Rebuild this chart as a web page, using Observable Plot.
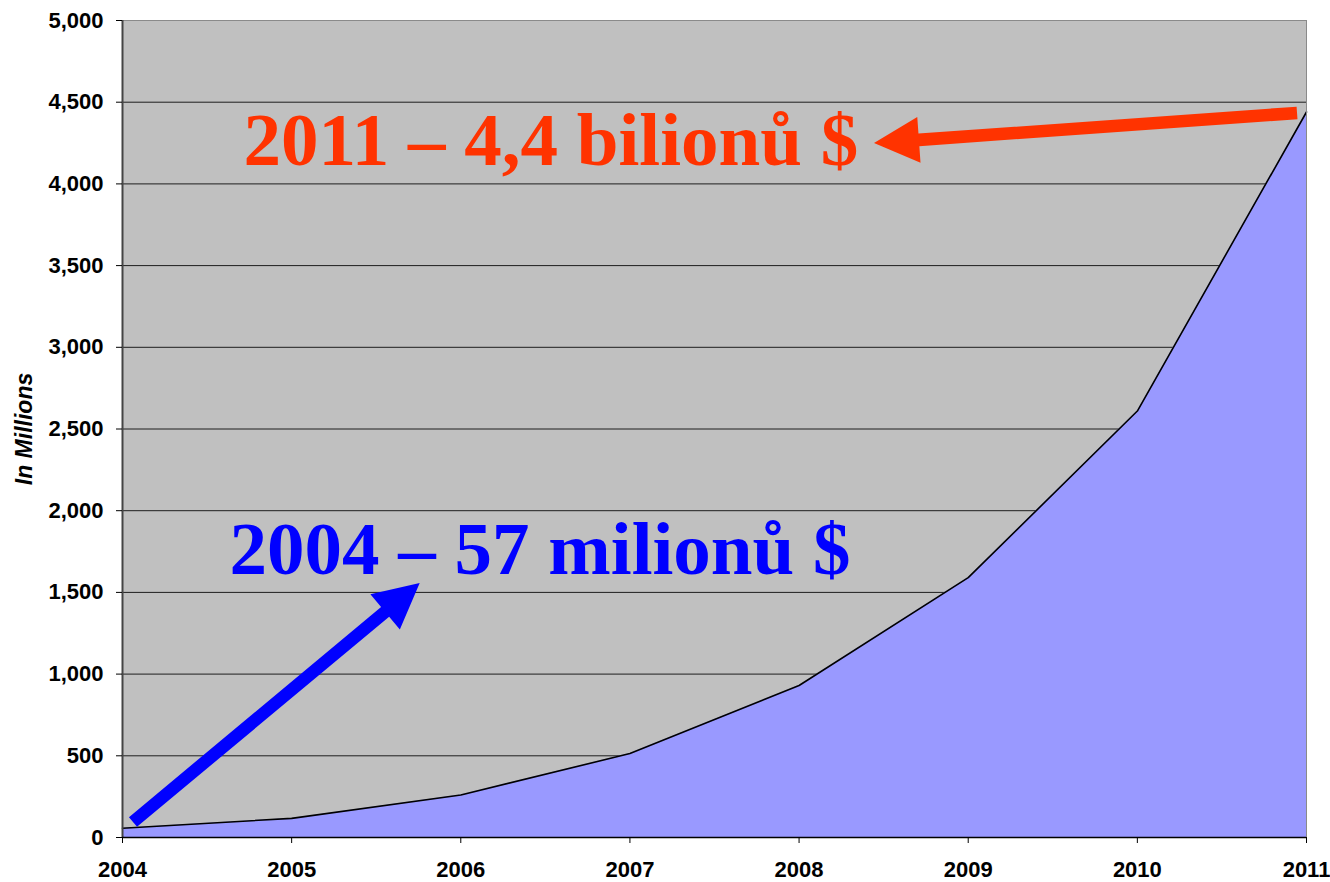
<!DOCTYPE html>
<html>
<head>
<meta charset="utf-8">
<script src="https://cdn.jsdelivr.net/npm/d3@7"></script>
<script src="https://cdn.jsdelivr.net/npm/@observablehq/plot@0.6"></script>
<style>
  html, body { margin: 0; padding: 0; background: #ffffff; }
</style>
</head>
<body>
<div id="chart"></div>
<script>
// ---- data ----
const years = [2004, 2005, 2006, 2007, 2008, 2009, 2010, 2011];
const values = [57, 117, 260, 514, 930, 1590, 2610, 4440];
const yTicks = [0, 500, 1000, 1500, 2000, 2500, 3000, 3500, 4000, 4500, 5000];
const yLabel = "In Millions";

// annotations (data units)
const noteTexts = ["2011 – 4,4 bilionů $", "2004 – 57 milionů $"];
const noteX = [2004.715, 2004.633];
const noteY = [4113, 1610];
const noteColors = ["#FF3300", "#0000FF"];

const arrowFromX = [2010.947, 2004.065];
const arrowFromY = [4431, 92];
const arrowToX = [2008.446, 2005.76];
const arrowToY = [4247, 1554];
const arrowColors = ["#FF3300", "#0000FF"];

// ---- build ----
const data = years.map((year, i) => ({year, value: values[i]}));
const notes = noteTexts.map((text, i) => ({text, x: noteX[i], y: noteY[i], color: noteColors[i]}));
const arrows = arrowFromX.map((x1, i) => ({x1, y1: arrowFromY[i], x2: arrowToX[i], y2: arrowToY[i], color: arrowColors[i]}));
const fmtThousands = d3.format(",d");

function arrowMark(index, scales) {
  const g = d3.create("svg:g");
  for (const a of arrows) {
    const x1 = scales.x(a.x1), y1 = scales.y(a.y1);
    const x2 = scales.x(a.x2), y2 = scales.y(a.y2);
    const dx = x2 - x1, dy = y2 - y1, L = Math.hypot(dx, dy);
    const ux = dx / L, uy = dy / L, px = -uy, py = ux;
    const hl = 45, hw = 23, sw = 6.3;
    const bx = x2 - ux * hl, by = y2 - uy * hl;
    const pts = [
      [x1 + px * sw, y1 + py * sw],
      [bx + px * sw, by + py * sw],
      [bx + px * hw, by + py * hw],
      [x2, y2],
      [bx - px * hw, by - py * hw],
      [bx - px * sw, by - py * sw],
      [x1 - px * sw, y1 - py * sw]
    ];
    g.append("polygon")
      .attr("points", pts.map(p => p.join(",")).join(" "))
      .attr("fill", a.color);
  }
  return g.node();
}

const chart = Plot.plot({
  width: 1330,
  height: 882,
  marginTop: 20,
  marginBottom: 45,
  marginLeft: 122,
  marginRight: 24,
  style: {fontFamily: "Liberation Sans, Arial, sans-serif", fontSize: "22px", fontWeight: "bold", color: "#000", background: "#fff"},
  x: {domain: [2004, 2011]},
  y: {domain: [0, 5000]},
  marks: [
    Plot.frame({fill: "#C0C0C0", stroke: null}),
    Plot.ruleY(yTicks, {stroke: "#000", strokeWidth: 1, strokeOpacity: 0.85}),
    Plot.areaY(data, {x: "year", y: "value", fill: "#9999FF"}),
    Plot.lineY(data, {x: "year", y: "value", stroke: "#000", strokeWidth: 1.6}),
    Plot.frame({stroke: "#8a8a8a", strokeWidth: 1}),
    Plot.ruleX([2004], {stroke: "#444", strokeWidth: 2}),
    Plot.ruleY([0], {stroke: "#000", strokeWidth: 1.5}),
    Plot.axisX({ticks: years, tickFormat: "d", tickSize: 6, tickPadding: 18, label: null, fontSize: 22, fontWeight: "bold"}),
    Plot.axisY({ticks: yTicks, tickFormat: fmtThousands, tickSize: 6, tickPadding: 13, label: null, fontSize: 22, fontWeight: "bold"}),
    Plot.text([yLabel], {frameAnchor: "left", dx: -107, rotate: -90, text: d => d, textAnchor: "middle", lineAnchor: "top", fontSize: 23, fontWeight: "bold", fontStyle: "italic", fill: "#000"}),
    arrowMark,
    Plot.text(notes, {x: "x", y: "y", text: "text", fill: "color", textAnchor: "start", lineAnchor: "bottom", fontFamily: "Liberation Serif, Times New Roman, serif", fontWeight: "bold", fontSize: 75})
  ]
});
document.getElementById("chart").appendChild(chart);
</script>
</body>
</html>
